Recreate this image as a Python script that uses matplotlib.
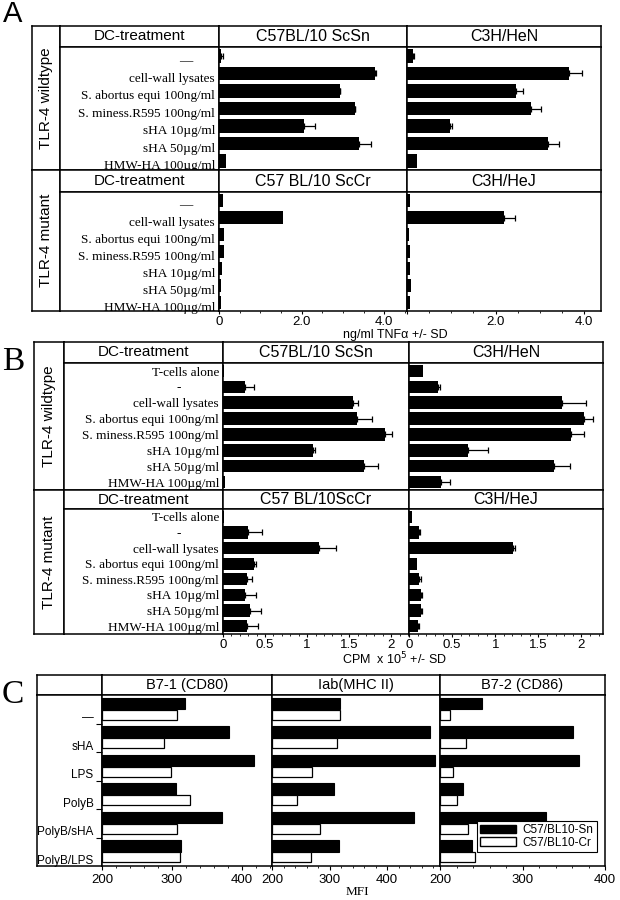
import matplotlib
matplotlib.use("Agg")
import matplotlib.pyplot as plt
from matplotlib.patches import Rectangle
from matplotlib.ticker import MultipleLocator
import numpy as np

# ---- data ----
# panel A: TNFa (ng/ml)
tnf_labels = ["—", "cell-wall lysates", "S. abortus equi 100ng/ml", "S. miness.R595 100ng/ml",
              "sHA 10µg/ml", "sHA 50µg/ml", "HMW-HA 100µg/ml"]
tnf_scsn = [0.05, 3.78, 2.92, 3.28, 2.05, 3.38, 0.16]
tnf_scsn_sd = [0.05, 0.03, 0.02, 0.02, 0.27, 0.31, 0.0]
tnf_hen = [0.14, 3.66, 2.45, 2.80, 0.96, 3.19, 0.22]
tnf_hen_sd = [0.02, 0.30, 0.18, 0.23, 0.06, 0.24, 0.0]
tnf_sccr = [0.10, 1.56, 0.12, 0.12, 0.08, 0.05, 0.05]
tnf_hej = [0.06, 2.20, 0.05, 0.06, 0.07, 0.09, 0.06]
tnf_hej_sd = [0.0, 0.23, 0.0, 0.0, 0.0, 0.0, 0.0]

# panel B: proliferation (CPM x 10^5)
cpm_labels = ["T-cells alone", "-", "cell-wall lysates", "S. abortus equi 100ng/ml",
              "S. miness.R595 100ng/ml", "sHA 10µg/ml", "sHA 50µg/ml", "HMW-HA 100µg/ml"]
cpm_scsn = [0.01, 0.26, 1.54, 1.59, 1.92, 1.07, 1.67, 0.02]
cpm_scsn_sd = [0.0, 0.11, 0.06, 0.18, 0.09, 0.02, 0.17, 0.0]
cpm_hen = [0.16, 0.34, 1.77, 2.03, 1.88, 0.68, 1.68, 0.37]
cpm_hen_sd = [0.0, 0.02, 0.28, 0.10, 0.15, 0.24, 0.19, 0.10]
cpm_sccr = [0.01, 0.30, 1.14, 0.37, 0.28, 0.26, 0.32, 0.28]
cpm_sccr_sd = [0.0, 0.16, 0.20, 0.02, 0.06, 0.13, 0.13, 0.13]
cpm_hej = [0.03, 0.12, 1.21, 0.09, 0.12, 0.14, 0.14, 0.11]
cpm_hej_sd = [0.0, 0.01, 0.02, 0.0, 0.02, 0.01, 0.01, 0.01]

# panel C: MFI
mfi_groups = ["—", "sHA", "LPS", "PolyB", "PolyB/sHA", "PolyB/LPS"]
b71_sn = [318, 381, 417, 306, 372, 313]
b71_cr = [307, 288, 299, 326, 307, 312]
iab_sn = [319, 475, 484, 308, 446, 317]
iab_cr = [318, 313, 270, 243, 284, 267]
b72_sn = [251, 361, 368, 228, 328, 239]
b72_cr = [212, 232, 216, 220, 234, 242]

plt.rcParams['font.family'] = ['Liberation Sans', 'DejaVu Sans']
SERIF = ['Liberation Serif', 'DejaVu Serif']

W, H = 620, 900
fig = plt.figure(figsize=(6.2, 9), dpi=100)


def axes_px(x0, y0, x1, y1):
    # axes placed in pixel coords, y measured from the top
    ax = fig.add_axes([x0 / W, 1 - y1 / H, (x1 - x0) / W, (y1 - y0) / H])
    for s in ax.spines.values():
        s.set_linewidth(1.1)
    return ax


def cell(x0, y0, x1, y1, text="", size=11, rot=0):
    ax = axes_px(x0, y0, x1, y1)
    ax.set_xticks([])
    ax.set_yticks([])
    if text:
        ax.text(0.5, 0.5, text, transform=ax.transAxes, ha='center', va='center',
                fontsize=size, rotation=rot)
    return ax


def labels(x0, y0, x1, y1, labs, off, dashx, size=9.5):
    ax = axes_px(x0, y0, x1, y1)
    n = len(labs)
    ax.set_xlim(0, 1)
    ax.set_ylim(n - 0.5, -0.5)
    ax.set_xticks([])
    ax.set_yticks([])
    for i, t in enumerate(labs):
        if t in ("—", "-"):
            ax.text(dashx, i + off, t, ha='center', va='center', family=SERIF, fontsize=size)
        else:
            ax.text(0.975, i + off, t, ha='right', va='center', family=SERIF, fontsize=size)
    return ax


def bars(x0, y0, x1, y1, vals, sd, xmax):
    ax = axes_px(x0, y0, x1, y1)
    n = len(vals)
    y = np.arange(n)
    vals = np.asarray(vals)
    sd = np.asarray(sd)
    ax.barh(y, vals, height=0.78, color='black')
    m = sd > 0
    ax.errorbar(vals[m], y[m], xerr=[np.zeros(m.sum()), sd[m]], fmt='none',
                ecolor='black', elinewidth=0.9, capsize=2, capthick=0.9)
    ax.set_xlim(0, xmax)
    ax.set_ylim(n - 0.5, -0.5)
    ax.set_yticks([])
    ax.set_xticks([])
    return ax


def xaxis(ax, major, minor, ticklabels=None):
    ax.xaxis.set_major_locator(MultipleLocator(major))
    ax.xaxis.set_minor_locator(MultipleLocator(minor))
    ax.tick_params(axis='x', which='major', length=2.5, width=0.8, labelsize=9.5, pad=1)
    ax.tick_params(axis='x', which='minor', length=1.5, width=0.6)
    if ticklabels is not None:
        ax.xaxis.set_major_formatter(plt.FuncFormatter(ticklabels))


# ================= panel A =================
fig.text(13 / W, 1 - 14 / H, "A", fontsize=21, ha='center', va='center')
cell(32, 26, 60, 170, "TLR-4 wildtype", size=11, rot=90)
cell(32, 170, 60, 311, "TLR-4 mutant", size=11, rot=90)
cell(60, 26, 219, 47, "DC-treatment", size=11)
cell(219, 26, 407, 47, "C57BL/10 ScSn", size=11.5)
cell(407, 26, 601, 47, "C3H/HeN", size=11.5)
labels(60, 47, 219, 170, tnf_labels, 0.3, 0.79)
bars(219, 47, 407, 170, tnf_scsn, tnf_scsn_sd, 4.55)
bars(407, 47, 601, 170, tnf_hen, tnf_hen_sd, 4.38)

cell(60, 170, 219, 192, "DC-treatment", size=11)
cell(219, 170, 407, 192, "C57 BL/10 ScCr", size=11.5)
cell(407, 170, 601, 192, "C3H/HeJ", size=11.5)
labels(60, 192, 219, 311, tnf_labels, 0.3, 0.79)
ax = bars(219, 192, 407, 311, tnf_sccr, [0] * 7, 4.55)
xaxis(ax, 2, 0.5, lambda v, p: "0" if v == 0 else f"{v:.1f}")
ax = bars(407, 192, 601, 311, tnf_hej, tnf_hej_sd, 4.38)
xaxis(ax, 2, 0.5, lambda v, p: "" if v == 0 else f"{v:.1f}")
fig.text(395 / W, 1 - 335 / H, "ng/ml TNFα +/- SD", fontsize=9, ha='center', va='center')

# ================= panel B =================
fig.text(13 / W, 1 - 362 / H, "B", fontsize=24, ha='center', va='center', family=SERIF)
cell(34, 342, 64, 490, "TLR-4 wildtype", size=11, rot=90)
cell(34, 490, 64, 634, "TLR-4 mutant", size=11, rot=90)
cell(64, 342, 223, 363, "DC-treatment", size=11)
cell(223, 342, 409, 363, "C57BL/10 ScSn", size=11.5)
cell(409, 342, 603, 363, "C3H/HeN", size=11.5)
labels(64, 363, 223, 490, cpm_labels, 0.1, 0.72)
bars(223, 363, 409, 490, cpm_scsn, cpm_scsn_sd, 2.21)
bars(409, 363, 603, 490, cpm_hen, cpm_hen_sd, 2.25)

cell(64, 490, 223, 509, "DC-treatment", size=11)
cell(223, 490, 409, 509, "C57 BL/10ScCr", size=11.5)
cell(409, 490, 603, 509, "C3H/HeJ", size=11.5)
labels(64, 509, 223, 634, cpm_labels, 0.1, 0.72)
fmt_b = lambda v, p: f"{v:g}"
ax = bars(223, 509, 409, 634, cpm_sccr, cpm_sccr_sd, 2.21)
xaxis(ax, 0.5, 0.1, fmt_b)
ax = bars(409, 509, 603, 634, cpm_hej, cpm_hej_sd, 2.25)
xaxis(ax, 0.5, 0.1, fmt_b)
fig.text(395 / W, 1 - 659 / H, "CPM  x 10$^5$ +/- SD", fontsize=9, ha='center', va='center')

# ================= panel C =================
fig.text(13 / W, 1 - 695 / H, "C", fontsize=24, ha='center', va='center', family=SERIF)
cell(37, 675, 102, 695)
cell(102, 675, 272, 695, "B7-1 (CD80)", size=10.5)
cell(272, 675, 440, 695, "Iab(MHC II)", size=10.5)
cell(440, 675, 605, 695, "B7-2 (CD86)", size=10.5)

lab = axes_px(37, 695, 102, 866)
ng = len(mfi_groups)
lab.set_xlim(0, 1)
lab.set_ylim(ng - 0.5, -0.5)
lab.set_xticks([])
lab.set_yticks([])
for i, g in enumerate(mfi_groups):
    lab.text(0.87, i + 0.32, g, ha='right', va='center', fontsize=8.5)

panels_c = [(102, 272, 443, b71_sn, b71_cr), (272, 440, 492, iab_sn, iab_cr),
            (440, 605, 400, b72_sn, b72_cr)]
yg = np.arange(ng)
for k, (x0, x1, xmax, sn, cr) in enumerate(panels_c):
    ax = axes_px(x0, 695, x1, 866)
    ax.barh(yg - 0.2, np.array(sn) - 200, left=200, height=0.4, color='black', edgecolor='black', lw=0.8)
    ax.barh(yg + 0.19, np.array(cr) - 200, left=200, height=0.36, color='white', edgecolor='black', lw=0.9)
    ax.set_xlim(200, xmax)
    ax.set_ylim(ng - 0.5, -0.5)
    ax.xaxis.set_major_locator(MultipleLocator(100))
    ax.xaxis.set_minor_locator(MultipleLocator(20))
    ax.tick_params(axis='x', which='major', length=3, width=0.8, labelsize=9.5, pad=3)
    ax.tick_params(axis='x', which='minor', length=1.5, width=0.6)
    if k == 0:
        ax.set_yticks(yg[:-1] + 0.5)
        ax.set_yticklabels([])
        ax.tick_params(axis='y', length=4, width=0.8)
    else:
        ax.set_yticks([])
    if k == 2:
        handles = [Rectangle((0, 0), 1, 1, fc='black', ec='black'),
                   Rectangle((0, 0), 1, 1, fc='white', ec='black')]
        leg = ax.legend(handles, ["C57/BL10-Sn", "C57/BL10-Cr"], loc='lower right',
                        bbox_to_anchor=(0.985, 0.05), fancybox=False, edgecolor='black',
                        framealpha=1, fontsize=8.5, handlelength=3.0, handleheight=0.7,
                        borderpad=0.25, labelspacing=0.05, handletextpad=0.6)
        leg.get_frame().set_linewidth(0.8)

fig.text(357 / W, 1 - 892 / H, "MFI", fontsize=9.5, ha='center', va='center', family=SERIF)

fig.savefig("out.png", dpi=100)
